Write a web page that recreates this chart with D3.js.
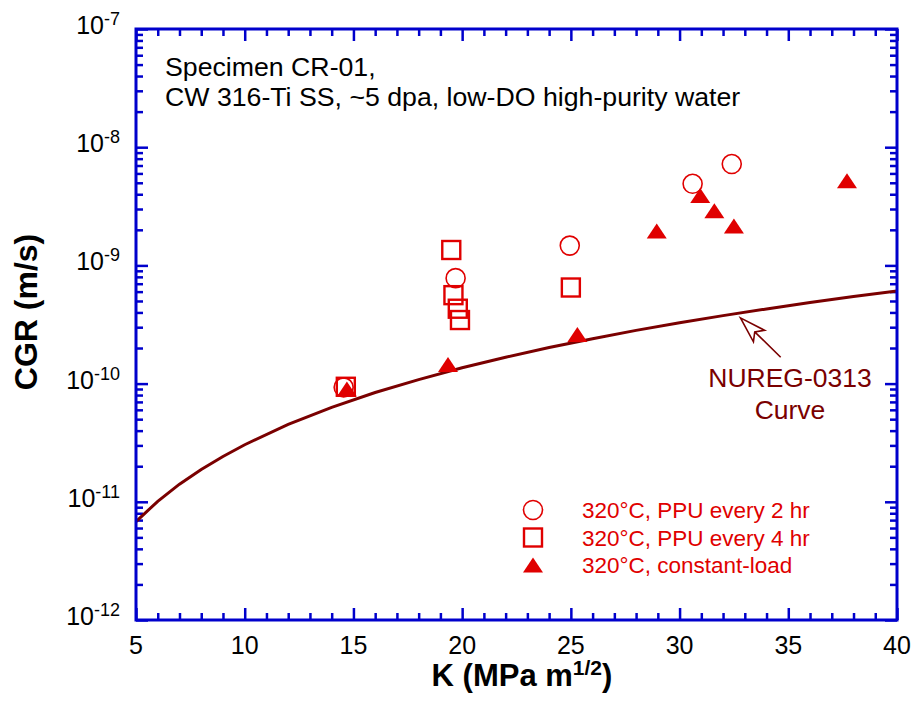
<!DOCTYPE html>
<html>
<head>
<meta charset="utf-8">
<script src="https://cdn.jsdelivr.net/npm/d3@7"></script>
<style>
  body { margin: 0; background: #fff; }
  text { font-family: Arial, "Liberation Sans", Helvetica, sans-serif; }
</style>
</head>
<body>
<script>
// data
var ppu2K   = [14.55, 19.7, 24.95, 30.6, 32.4];
var ppu2CGR = [9.3e-11, 7.8e-10, 1.47e-9, 4.9e-9, 7.2e-9];

var ppu4K   = [14.65, 19.5, 19.6, 19.8, 19.9, 25.0];
var ppu4CGR = [9.4e-11, 1.35e-9, 5.6e-10, 4.3e-10, 3.45e-10, 6.5e-10];

var clK   = [14.7, 19.35, 25.3, 28.95, 30.95, 31.6, 32.5, 37.7];
var clCGR = [9.0e-11, 1.45e-10, 2.6e-10, 1.95e-9, 3.9e-9, 2.9e-9, 2.15e-9, 5.2e-9];

var nuregK   = [5, 6, 7, 8, 9, 10, 12, 14, 16, 18, 20, 22, 24, 26, 28, 30, 32, 34, 36, 38, 40];
var nuregCGR = [6.8e-12, 1.01e-11, 1.41e-11, 1.88e-11, 2.42e-11, 3.04e-11, 4.51e-11, 6.29e-11,
                8.4e-11, 1.08e-10, 1.36e-10, 1.67e-10, 2.02e-10, 2.4e-10, 2.82e-10, 3.27e-10,
                3.76e-10, 4.28e-10, 4.85e-10, 5.45e-10, 6.08e-10];

var xTicks = [5, 10, 15, 20, 25, 30, 35, 40];
var yExps  = [-12, -11, -10, -9, -8, -7];

var legendLabels = ["320\u00b0C, PPU every 2 hr", "320\u00b0C, PPU every 4 hr", "320\u00b0C, constant-load"];

var W = 915, H = 703;
var margin = {left: 136, right: 18, top: 29, bottom: 83};
var w = W - margin.left - margin.right,
    h = H - margin.top - margin.bottom;

var blue = "#0000cc", red = "#e00000", maroon = "#7a0000";

var svg = d3.select("body").append("svg")
    .attr("width", W)
    .attr("height", H);

var g = svg.append("g")
    .attr("transform", "translate(" + margin.left + "," + margin.top + ")");

var x = d3.scaleLinear().domain([5, 40]).range([0, w]);
var y = d3.scaleLog().domain([1e-12, 1e-7]).range([h, 0]);

var xMinor = d3.range(5, 41).filter(function(d) { return d % 5 !== 0; });
var yMajor = yExps.map(function(e) { return Math.pow(10, e); });
var yMinor = [];
yExps.slice(0, -1).forEach(function(e) {
  for (var m = 2; m < 10; m++) yMinor.push(m * Math.pow(10, e));
});

function tickStyle(sel) {
  sel.select(".domain").remove();
  sel.selectAll("line").attr("stroke", blue).attr("stroke-width", 2.5);
  sel.selectAll("text").remove();
}

// ticks, all pointing inward on four sides
g.append("g").attr("transform", "translate(0," + h + ")")
    .call(d3.axisBottom(x).tickValues(xTicks).tickSize(-12)).call(tickStyle);
g.append("g").attr("transform", "translate(0," + h + ")")
    .call(d3.axisBottom(x).tickValues(xMinor).tickSize(-7)).call(tickStyle);
g.append("g")
    .call(d3.axisTop(x).tickValues(xTicks).tickSize(-12)).call(tickStyle);
g.append("g")
    .call(d3.axisTop(x).tickValues(xMinor).tickSize(-7)).call(tickStyle);
g.append("g")
    .call(d3.axisLeft(y).tickValues(yMajor).tickSize(-12)).call(tickStyle);
g.append("g")
    .call(d3.axisLeft(y).tickValues(yMinor).tickSize(-7)).call(tickStyle);
g.append("g").attr("transform", "translate(" + w + ",0)")
    .call(d3.axisRight(y).tickValues(yMajor).tickSize(-12)).call(tickStyle);
g.append("g").attr("transform", "translate(" + w + ",0)")
    .call(d3.axisRight(y).tickValues(yMinor).tickSize(-7)).call(tickStyle);

// tick labels
g.append("g").selectAll("text")
    .data(xTicks)
  .enter().append("text")
    .attr("x", function(d) { return x(d); })
    .attr("y", h + 34)
    .attr("text-anchor", "middle")
    .style("font-size", "25px")
    .text(function(d) { return d; });

var yl = g.append("g").selectAll("text")
    .data(yExps)
  .enter().append("text")
    .attr("x", -16)
    .attr("y", function(d) { return y(Math.pow(10, d)) + 5; })
    .attr("text-anchor", "end")
    .style("font-size", "25px");
yl.append("tspan").text("10");
yl.append("tspan").attr("dy", -9).style("font-size", "18px").text(function(d) { return d; });

// axis titles
var xt = svg.append("text")
    .attr("x", margin.left + 386)
    .attr("y", H - 17)
    .attr("text-anchor", "middle")
    .style("font-size", "31px")
    .style("font-weight", "bold");
xt.append("tspan").text("K (MPa m");
xt.append("tspan").attr("dy", -11).style("font-size", "21px").text("1/2");
xt.append("tspan").attr("dy", 11).text(")");

svg.append("text")
    .attr("transform", "translate(37," + 312 + ") rotate(-90)")
    .attr("text-anchor", "middle")
    .style("font-size", "32px")
    .style("font-weight", "bold")
    .text("CGR (m/s)");

// NUREG-0313 curve
g.append("clipPath").attr("id", "clip")
  .append("rect").attr("width", w).attr("height", h);

var line = d3.line()
    .x(function(d) { return x(d[0]); })
    .y(function(d) { return y(d[1]); });

g.append("path")
    .datum(d3.zip(nuregK, nuregCGR))
    .attr("clip-path", "url(#clip)")
    .attr("fill", "none")
    .attr("stroke", maroon)
    .attr("stroke-width", 3)
    .attr("d", line);

// markers
var sym = {
  circle: function(s) {
    s.append("circle").attr("r", 9.5)
      .attr("fill", "none").attr("stroke", red).attr("stroke-width", 1.6);
  },
  square: function(s) {
    s.append("rect").attr("x", -9).attr("y", -9).attr("width", 18).attr("height", 18)
      .attr("fill", "none").attr("stroke", red).attr("stroke-width", 2.4);
  },
  triangle: function(s) {
    s.append("path").attr("d", "M0,-7.5L10,7.5L-10,7.5Z").attr("fill", red);
  }
};

function plotSeries(ks, vals, kind) {
  g.append("g").selectAll("g")
      .data(d3.zip(ks, vals))
    .enter().append("g")
      .attr("transform", function(d) { return "translate(" + x(d[0]) + "," + y(d[1]) + ")"; })
      .call(sym[kind]);
}
plotSeries(ppu2K, ppu2CGR, "circle");
plotSeries(ppu4K, ppu4CGR, "square");
plotSeries(clK, clCGR, "triangle");

// frame
g.append("rect")
    .attr("width", w)
    .attr("height", h)
    .attr("fill", "none")
    .attr("stroke", blue)
    .attr("stroke-width", 3);

// specimen note
var note = g.append("text")
    .attr("x", 29)
    .attr("y", 47)
    .style("font-size", "26.7px");
note.append("tspan").attr("x", 29).text("Specimen CR-01,");
note.append("tspan").attr("x", 29).attr("dy", 29.5).text("CW 316-Ti SS, ~5 dpa, low-DO high-purity water");

// annotation arrow and label
var tip = [x(32.8), y(3.6e-10)],
    tail = [x(34.65), y(1.67e-10)];
var dx = tail[0] - tip[0], dy = tail[1] - tip[1], len = Math.sqrt(dx * dx + dy * dy);
var ux = dx / len, uy = dy / len;
function pt(a, b) { return [tip[0] + ux * a - uy * b, tip[1] + uy * a + ux * b]; }
var w1 = pt(26, -8), w2 = pt(26, 8), notch = pt(20, 0);
g.append("path")
    .attr("d", "M" + tip + "L" + w1 + "L" + notch + "L" + w2 + "Z M" + notch + "L" + tail)
    .attr("fill", "none")
    .attr("stroke", maroon)
    .attr("stroke-width", 1.6)
    .attr("stroke-linejoin", "miter");

var lab = g.append("text")
    .attr("x", 654)
    .attr("y", 358)
    .attr("text-anchor", "middle")
    .attr("fill", maroon)
    .style("font-size", "26.5px");
lab.append("tspan").attr("x", 654).text("NUREG-0313");
lab.append("tspan").attr("x", 654).attr("dy", 32).text("Curve");

// legend
var kinds = ["circle", "square", "triangle"];
var leg = g.append("g").selectAll("g")
    .data(kinds)
  .enter().append("g")
    .attr("transform", function(d, i) { return "translate(397," + (481 + i * 27.5) + ")"; });
leg.each(function(d) { d3.select(this).call(sym[d]); });
leg.append("text")
    .attr("x", 49)
    .attr("y", 8)
    .attr("fill", red)
    .style("font-size", "22.5px")
    .text(function(d, i) { return legendLabels[i]; });
</script>
</body>
</html>
